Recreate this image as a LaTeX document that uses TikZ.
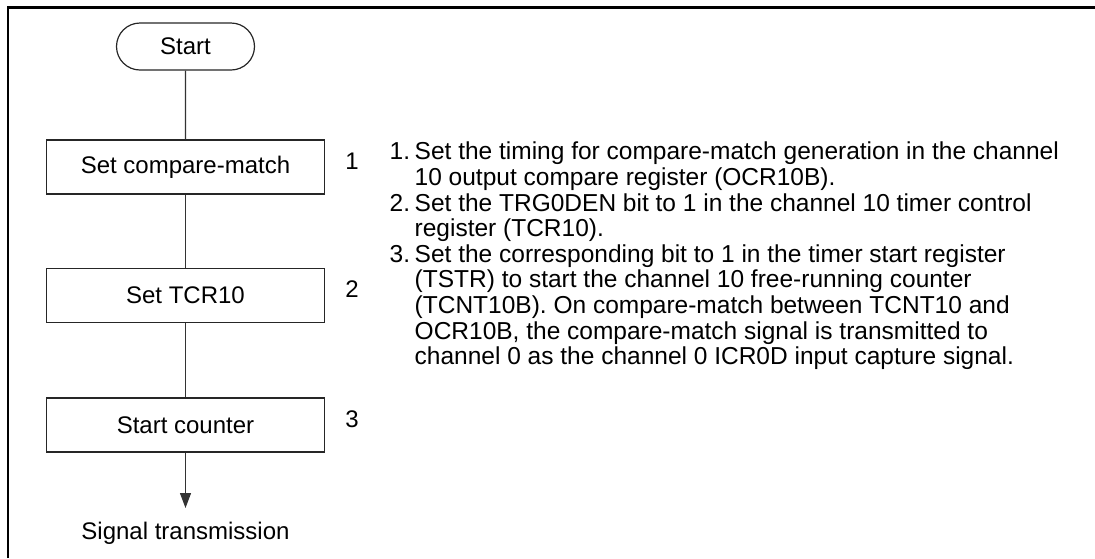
\documentclass[tikz,border=0pt]{standalone}
\usepackage{fontspec}
\setmainfont{Liberation Sans}
\usetikzlibrary{arrows.meta,positioning,shapes.misc}
\newcommand{\noteindent}{\hspace*{25pt}}
\newcommand{\noteitem}[1]{\makebox[25pt][l]{#1}}
\tikzset{
  flowline/.style={draw=black!80, line width=1.2pt},
  termbox/.style={rounded rectangle, draw=black!85, line width=1.2pt, minimum width=138pt, minimum height=47pt, inner sep=0pt, font=\fontsize{24}{28}\selectfont},
  procbox/.style={rectangle, draw=black!85, line width=1.2pt, minimum width=278pt, minimum height=54pt, inner sep=0pt, font=\fontsize{24}{28}\selectfont},
  stepnum/.style={inner sep=0pt, font=\fontsize{24}{28}\selectfont},
}
\begin{document}
\begin{tikzpicture}[x=1pt, y=-1pt]
\useasboundingbox (0,0) rectangle (1095,558);
% ---------- frame (top and left edges only) ----------
\draw[line width=2.5pt] (8,558) -- (8,7.5) -- (1095,7.5);
% ---------- flow chart ----------
\node[termbox] (start) at (185.5,46.5) {Start};
\node[procbox] (cmp) at (185.5,167) {Set compare-match};
\node[procbox] (tcr) at (185.5,295.5) {Set TCR10};
\node[procbox] (cnt) at (185.5,425) {Start counter};
\coordinate (tip) at (185.5,508);
\node[anchor=base, inner sep=0pt, font=\fontsize{24}{28}\selectfont] (sig) at (185.5,539) {Signal transmission};
\draw[flowline] (start) -- (cmp);
\draw[flowline] (cmp) -- (tcr);
\draw[flowline] (tcr) -- (cnt);
\draw[flowline, -{Triangle[length=15pt, width=11pt]}] (cnt) -- (tip);
% ---------- step numbers ----------
\node[stepnum] (n1) at (352,161) {1};
\node[stepnum] (n2) at (352,289) {2};
\node[stepnum] (n3) at (352,419) {3};
% ---------- notes ----------
\node[anchor=north west, inner sep=0pt, align=left, font=\fontsize{24.5}{25.6}\selectfont] (notes) at (389.5,142) {%
\noteitem{1.}Set the timing for compare-match generation in the channel\\
\noteindent 10 output compare register (OCR10B).\\
\noteitem{2.}Set the TRG0DEN bit to 1 in the channel 10 timer control\\
\noteindent register (TCR10).\\
\noteitem{3.}Set the corresponding bit to 1 in the timer start register\\
\noteindent (TSTR) to start the channel 10 free-running counter\\
\noteindent (TCNT10B). On compare-match between TCNT10 and\\
\noteindent OCR10B, the compare-match signal is transmitted to\\
\noteindent channel 0 as the channel 0 ICR0D input capture signal.};
\end{tikzpicture}
\end{document}
